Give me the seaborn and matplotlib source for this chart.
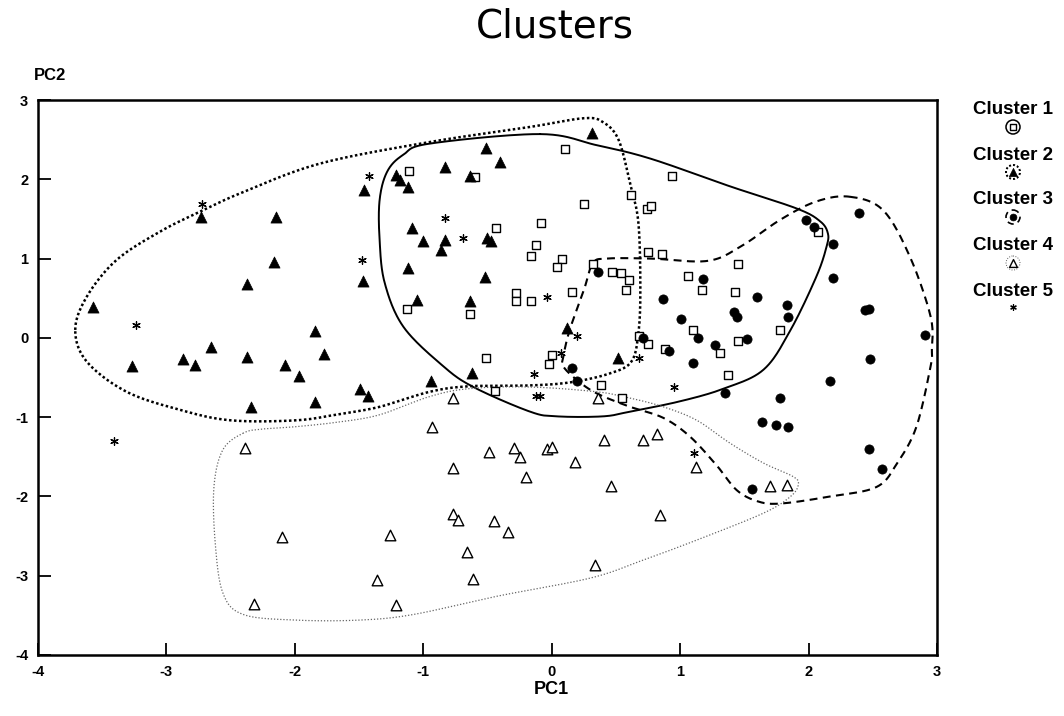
import numpy as np
import pandas as pd
import matplotlib
matplotlib.use("Agg")
import matplotlib.pyplot as plt
from matplotlib.patches import Circle
import seaborn as sns

# ---------------- data ----------------
c1_x = [0.10, -1.11, -0.60, 0.62, 0.74, 0.77, 0.25, 0.94, -0.08, -0.43, -0.12, -0.16, 0.08, 0.04, 0.32,
        0.47, 0.54, 0.60, 0.58, -1.13, -0.64, -0.28, -0.28, -0.16, 0.16, -0.51, 0.00, -0.02, 0.68, 2.07,
        0.75, 0.86, 1.45, 1.06, 1.17, 1.43, 1.78, 1.10, 1.45, 1.31, 0.88, 0.75, 1.37, -0.44, 0.38, 0.55]
c1_y = [2.38, 2.11, 2.03, 1.80, 1.62, 1.66, 1.69, 2.04, 1.45, 1.38, 1.17, 1.03, 0.99, 0.89, 0.93,
        0.83, 0.82, 0.73, 0.60, 0.36, 0.30, 0.57, 0.47, 0.47, 0.58, -0.26, -0.22, -0.33, 0.02, 1.33,
        1.08, 1.06, 0.93, 0.78, 0.60, 0.58, 0.10, 0.10, -0.04, -0.19, -0.14, -0.08, -0.47, -0.67, -0.59, -0.76]

c2_x = [-2.73, -2.15, -2.16, -2.37, -3.57, -1.84, -2.65, -2.87, -2.37, -1.77, -3.27, -2.78, -2.08, -1.97,
        -2.34, -1.84, 0.31, -0.51, -0.40, -0.83, -1.21, -1.18, -1.12, -0.64, -1.46, -1.09, -1.00, -0.83,
        -0.86, -0.50, -0.47, -1.47, -1.12, -0.52, -1.05, -0.64, 0.12, 0.52, -1.49, -1.43, -0.94, -0.62]
c2_y = [1.52, 1.52, 0.96, 0.68, 0.39, 0.09, -0.11, -0.27, -0.24, -0.20, -0.35, -0.34, -0.34, -0.48,
        -0.87, -0.81, 2.58, 2.40, 2.22, 2.16, 2.05, 1.99, 1.90, 2.04, 1.87, 1.38, 1.22, 1.24,
        1.11, 1.26, 1.22, 0.72, 0.88, 0.77, 0.48, 0.47, 0.13, -0.25, -0.65, -0.73, -0.55, -0.44]

c3_x = [0.36, 0.16, 0.71, 2.39, 1.98, 2.04, 2.19, 2.19, 2.44, 2.47, 2.91, 2.48, 1.18, 0.87, 1.60, 1.83,
        1.84, 1.42, 1.44, 1.01, 1.14, 1.52, 1.27, 0.91, 1.10, 1.35, 2.17, 1.78, 1.64, 1.75, 1.84, 2.47,
        2.57, 1.56, 0.20]
c3_y = [0.83, -0.38, 0.00, 1.57, 1.49, 1.40, 1.18, 0.76, 0.35, 0.37, 0.04, -0.27, 0.74, 0.49, 0.52, 0.41,
        0.26, 0.33, 0.26, 0.24, 0.00, -0.02, -0.09, -0.17, -0.32, -0.70, -0.55, -0.76, -1.06, -1.10, -1.13, -1.40,
        -1.65, -1.91, -0.54]

c4_x = [-2.39, -2.10, -2.32, 1.70, 1.83, 0.71, 0.82, 1.12, 0.84, -0.77, 0.36, -0.93, -0.49, -0.29, -0.25,
        -0.04, 0.00, 0.41, -0.77, 0.18, -0.20, 0.46, -0.77, -0.73, -0.45, -0.34, -1.26, -0.66, 0.34, -1.36,
        -0.61, -1.21]
c4_y = [-1.39, -2.51, -3.36, -1.87, -1.85, -1.29, -1.21, -1.63, -2.23, -0.76, -0.76, -1.13, -1.44, -1.39, -1.50,
        -1.40, -1.38, -1.29, -1.64, -1.57, -1.76, -1.87, -2.22, -2.30, -2.31, -2.45, -2.49, -2.70, -2.86, -3.05,
        -3.04, -3.37]

c5_x = [-2.72, -3.24, -3.41, -1.42, -0.83, -0.69, -1.48, -0.04, 0.20, 0.07, 0.68, -0.14, -0.12, -0.09, 0.95, 1.11]
c5_y = [1.69, 0.16, -1.30, 2.04, 1.51, 1.26, 0.98, 0.52, 0.02, -0.19, -0.25, -0.46, -0.73, -0.73, -0.62, -1.45]

# outline control points (data units)
o1_x = [-0.09, 0.35, 0.77, 1.39, 1.91, 2.09, 2.15, 2.14, 2.06, 1.86, 1.65, 1.34, 1.00, 0.61, 0.40, 0.04,
        -0.17, -0.61, -0.85, -1.155, -1.30, -1.34, -1.34, -1.28, -1.155, -0.95]
o1_y = [2.57, 2.43, 2.26, 1.91, 1.63, 1.47, 1.32, 1.15, 0.77, 0.10, -0.40, -0.64, -0.80, -0.93, -0.99, -0.99,
        -0.93, -0.62, -0.35, 0.14, 0.69, 1.23, 1.74, 2.10, 2.31, 2.45]

o2_x = [-3.71, -3.62, -3.39, -3.05, -2.74, -2.40, -1.80, -0.95, -0.17, 0.25, 0.40, 0.52, 0.61, 0.675, 0.69,
        0.675, 0.62, 0.45, 0.15, -0.17, -0.64, -0.95, -1.34, -1.65, -1.99, -2.50, -2.89, -3.31, -3.62]
o2_y = [0.10, 0.52, 0.98, 1.34, 1.59, 1.84, 2.20, 2.47, 2.66, 2.77, 2.72, 2.50, 1.95, 1.45, 0.60,
        0.06, -0.30, -0.45, -0.56, -0.60, -0.61, -0.68, -0.87, -0.96, -1.04, -1.04, -0.91, -0.68, -0.30]

o3_x = [2.32, 2.58, 2.79, 2.95, 2.96, 2.95, 2.84, 2.69, 2.53, 2.17, 1.78, 1.60, 1.44, 1.29, 1.08, 0.87, 0.61,
        0.35, 0.195, 0.09, 0.09, 0.14, 0.25, 0.32, 0.43, 0.77, 1.21, 1.47, 1.78, 2.06]
o3_y = [1.78, 1.61, 1.02, 0.27, -0.15, -0.36, -1.12, -1.58, -1.88, -2.00, -2.09, -2.06, -1.92, -1.62, -1.25, -1.01, -0.87,
        -0.70, -0.53, -0.36, -0.24, 0.10, 0.60, 0.94, 1.00, 1.00, 0.97, 1.15, 1.49, 1.72]

o4_x = [-2.40, -2.56, -2.63, -2.62, -2.56, -2.40, -1.99, -1.50, -1.08, -0.43, 0.30, 0.70, 1.13, 1.65, 1.86,
        1.92, 1.88, 1.65, 1.39, 1.13, 0.87, 0.61, 0.35, -0.17, -0.64, -0.95, -1.34, -1.65, -1.99, -2.25]
o4_y = [-1.20, -1.41, -1.88, -2.59, -3.22, -3.49, -3.56, -3.56, -3.49, -3.26, -3.03, -2.81, -2.55, -2.21, -2.00,
        -1.85, -1.75, -1.58, -1.33, -1.04, -0.87, -0.76, -0.68, -0.62, -0.64, -0.74, -0.97, -1.06, -1.12, -1.15]

cluster_names = ["Cluster 1", "Cluster 2", "Cluster 3", "Cluster 4", "Cluster 5"]
x_ticks = [-4, -3, -2, -1, 0, 1, 2, 3]
y_ticks = [-4, -3, -2, -1, 0, 1, 2, 3]

# ---------------- helpers ----------------
def closed_spline(xs, ys, n=24):
    P = np.column_stack([xs, ys]).astype(float)
    m = len(P)
    t = np.linspace(0, 1, n, endpoint=False)[:, None]
    segs = []
    for i in range(m):
        p0, p1, p2, p3 = P[(i - 1) % m], P[i], P[(i + 1) % m], P[(i + 2) % m]
        pts = 0.5 * ((2 * p1) + (-p0 + p2) * t + (2 * p0 - 5 * p1 + 4 * p2 - p3) * t ** 2
                     + (-p0 + 3 * p1 - 3 * p2 + p3) * t ** 3)
        segs.append(pts)
    segs.append(segs[0][:1])
    out = np.vstack(segs)
    return out[:, 0], out[:, 1]

# ---------------- style ----------------
sns.set_theme(style="ticks")
plt.rcParams["font.family"] = ["Liberation Sans", "DejaVu Sans"]
plt.rcParams["text.color"] = "black"
plt.rcParams["axes.labelcolor"] = "black"
plt.rcParams["xtick.color"] = "black"
plt.rcParams["ytick.color"] = "black"

W, H = 1064, 716
fig = plt.figure(figsize=(W / 100, H / 100), dpi=100)
ax = fig.add_axes([38 / W, 1 - 655 / H, (937 - 38) / W, (655 - 100) / H])

frames = []
for name, xs, ys in zip(cluster_names, [c1_x, c2_x, c3_x, c4_x, c5_x], [c1_y, c2_y, c3_y, c4_y, c5_y]):
    frames.append(pd.DataFrame({"PC1": xs, "PC2": ys, "cluster": name}))
df = pd.concat(frames, ignore_index=True)

styles = {
    "Cluster 1": dict(marker="s", s=34, facecolor="white", edgecolor="black", linewidth=1.0),
    "Cluster 2": dict(marker="^", s=64, facecolor="black", edgecolor="black", linewidth=0.5),
    "Cluster 3": dict(marker="o", s=44, facecolor="black", edgecolor="black", linewidth=0.5),
    "Cluster 4": dict(marker="^", s=58, facecolor="white", edgecolor="black", linewidth=1.0),
    "Cluster 5": dict(marker=(6, 2, 0), s=30, facecolor="black", edgecolor="black", linewidth=0.9),
}
for name in cluster_names:
    sub = df[df["cluster"] == name]
    sns.scatterplot(data=sub, x="PC1", y="PC2", ax=ax, legend=False, zorder=3, **styles[name])

line_styles = {
    "Cluster 1": dict(color="black", linewidth=1.4, linestyle="-"),
    "Cluster 2": dict(color="black", linewidth=1.8, linestyle=(0, (1.0, 1.0))),
    "Cluster 3": dict(color="black", linewidth=1.5, linestyle=(0, (3.8, 2.6))),
    "Cluster 4": dict(color="#666666", linewidth=0.9, linestyle=(0, (1.0, 1.5))),
}
for name, ox, oy in zip(cluster_names[:4], [o1_x, o2_x, o3_x, o4_x], [o1_y, o2_y, o3_y, o4_y]):
    sx, sy = closed_spline(ox, oy)
    ax.plot(sx, sy, zorder=2, **line_styles[name])

ax.set_xlim(-4, 3)
ax.set_ylim(-4, 3)
ax.set_xticks(x_ticks)
ax.set_yticks(y_ticks)
ax.set_xticklabels([str(v) for v in x_ticks], fontweight="bold")
ax.set_yticklabels([str(v) for v in y_ticks], fontweight="bold")
ax.tick_params(direction="in", length=9, width=1.3, labelsize=10.5, pad=7, colors="black")
for sp in ax.spines.values():
    sp.set_visible(True)
    sp.set_linewidth(1.8)
    sp.set_color("black")
ax.set_xlabel("")
ax.set_ylabel("")
ax.set_facecolor("white")

fig.text(551 / W, 1 - 690 / H, "PC1", ha="center", va="center", fontsize=13, fontweight="bold",
         color="black")
fig.text(50 / W, 1 - 75 / H, "PC2", ha="center", va="center", fontsize=12, fontweight="bold",
         color="black")
fig.text(555 / W, 1 - 26 / H, "Clusters", ha="center", va="center", fontsize=28,
         family=["DejaVu Sans"], color="black")

# ---------------- legend ----------------
lax = fig.add_axes([0, 0, 1, 1], zorder=5)
lax.set_xlim(0, W)
lax.set_ylim(H, 0)
lax.axis("off")
leg_text_y = [109, 155, 200, 246, 292]
leg_mark_y = [127, 172, 217, 263, 307]
leg_x = 1013
for i, name in enumerate(cluster_names):
    lax.text(leg_x, leg_text_y[i], name, ha="center", va="center", fontsize=13.5, fontweight="bold",
             color="black")
    st = dict(styles[name])
    st["s"] = st["s"] * 0.55
    lax.scatter([leg_x], [leg_mark_y[i]], zorder=6, **st)
    if name in line_styles:
        ls = dict(line_styles[name])
        c = Circle((leg_x, leg_mark_y[i]), 7, fill=False, edgecolor=ls["color"],
                   linewidth=ls["linewidth"] * 0.8, linestyle=ls["linestyle"])
        lax.add_patch(c)

fig.savefig("out.png", dpi=100, facecolor="white")
